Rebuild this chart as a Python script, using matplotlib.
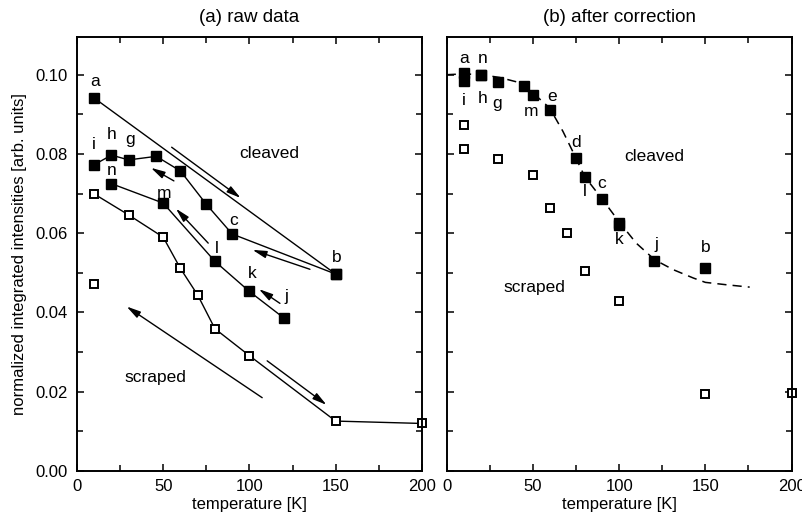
import matplotlib
matplotlib.use("Agg")
import matplotlib.pyplot as plt
from matplotlib.ticker import MultipleLocator, FormatStrFormatter

plt.rcParams["font.family"] = ["Liberation Sans", "DejaVu Sans"]
plt.rcParams["font.size"] = 12

# ---- (a) raw data ----
# cleaved: a -> b straight run
raw_ab_T = [10, 150]
raw_ab_I = [0.0941, 0.0497]
# cleaved: b -> c -> d -> e -> f -> g -> h -> i (cooling back)
raw_bi_T = [150, 90, 75, 60, 46, 30, 20, 10]
raw_bi_I = [0.0497, 0.0598, 0.0673, 0.0757, 0.0794, 0.0785, 0.0797, 0.0773]
# cleaved: j -> k -> l -> m -> n
raw_jn_T = [120, 100, 80, 50, 20]
raw_jn_I = [0.0386, 0.0453, 0.0529, 0.0676, 0.0725]
# scraped
raw_scr_T = [10, 30, 50, 60, 70, 80, 100, 150, 200]
raw_scr_I = [0.0699, 0.0646, 0.0590, 0.0511, 0.0444, 0.0359, 0.0291, 0.0126, 0.0120]
raw_scr_lone_T = [10]
raw_scr_lone_I = [0.0471]

raw_labels = ["a", "i", "h", "g", "n", "m", "c", "b", "l", "k", "j"]
raw_label_T = [10.4, 9.9, 20.1, 30.7, 20.1, 50.6, 90.6, 150.5, 81.0, 101.8, 121.2]
raw_label_I = [0.0983, 0.0823, 0.0848, 0.0836, 0.0758, 0.0701, 0.0632, 0.0539, 0.0562, 0.0499, 0.0440]

# arrows (start T, start I, end T, end I)
raw_arrows = [
    (54.9, 0.0817, 94.9, 0.0689),
    (56.2, 0.0732, 42.9, 0.0765),
    (76.1, 0.0575, 57.4, 0.0662),
    (135.1, 0.0509, 101.8, 0.0558),
    (117.7, 0.0423, 105.5, 0.0459),
    (107.4, 0.0185, 28.8, 0.0415),
    (110.3, 0.0278, 144.7, 0.0167),
]

# ---- (b) after correction ----
cor_cl_T = [10, 10, 20, 20, 30, 45, 50, 60, 75, 80, 90, 100, 100, 120, 150]
cor_cl_I = [0.1005, 0.0985, 0.1000, 0.0998, 0.0982, 0.0971, 0.0949, 0.0912,
            0.0791, 0.0741, 0.0687, 0.0627, 0.0622, 0.0529, 0.0512]
cor_scr_T = [10, 10, 30, 50, 60, 70, 80, 100, 150, 200]
cor_scr_I = [0.0872, 0.0813, 0.0787, 0.0746, 0.0663, 0.0600, 0.0505, 0.0429, 0.0194, 0.0198]
# dashed guide curve
fit_T = [0, 10, 20, 30.7, 40.4, 50, 59.7, 67.4, 74.8, 80, 90, 100.3, 109.9,
         120.6, 131.4, 143, 150, 162.1, 175.7]
fit_I = [0.1000, 0.1002, 0.1000, 0.0993, 0.0982, 0.0954, 0.0916, 0.0857, 0.0791,
         0.0743, 0.0687, 0.0627, 0.0575, 0.0533, 0.0508, 0.0487, 0.0476, 0.0470, 0.0464]

cor_labels = ["a", "n", "i", "h", "g", "m", "e", "d", "l", "c", "k", "j", "b"]
cor_label_T = [10, 20.7, 10, 20.7, 29.3, 49.1, 61.2, 74.8, 80.2, 90, 100.3, 121.4, 150.5]
cor_label_I = [0.1042, 0.1040, 0.0934, 0.0941, 0.0927, 0.0906, 0.0945, 0.0828,
               0.0705, 0.0725, 0.0583, 0.0572, 0.0565]

LBL = 12.5


def style_axis(ax):
    ax.set_xlim(0, 200)
    ax.set_ylim(0, 0.1095)
    ax.xaxis.set_major_locator(MultipleLocator(50))
    ax.xaxis.set_minor_locator(MultipleLocator(25))
    ax.yaxis.set_major_locator(MultipleLocator(0.02))
    ax.yaxis.set_minor_locator(MultipleLocator(0.01))
    ax.tick_params(which="both", direction="in", top=True, right=True, width=1.1,
                   labelsize=12)
    ax.tick_params(which="major", length=5)
    ax.tick_params(which="minor", length=4)
    ax.tick_params(axis="y", pad=7)
    ax.tick_params(axis="x", pad=6)
    for s in ax.spines.values():
        s.set_linewidth(1.4)
    ax.set_xlabel("temperature [K]", fontsize=12, labelpad=2)


fig = plt.figure(figsize=(8.02, 5.18), dpi=100)
ax1 = fig.add_axes([0.096, 0.0907, 0.430, 0.8378])
ax2 = fig.add_axes([0.557, 0.0907, 0.430, 0.8378])

fill_kw = dict(marker="s", ms=7.5, color="black", mfc="black", lw=1.0)
open_kw = dict(marker="s", ms=6, color="black", mfc="white", mew=1.4, lw=1.0)

ax1.plot(raw_ab_T, raw_ab_I, **fill_kw)
ax1.plot(raw_bi_T, raw_bi_I, **fill_kw)
ax1.plot(raw_jn_T, raw_jn_I, **fill_kw)
ax1.plot(raw_scr_T, raw_scr_I, clip_on=False, **open_kw)
ax1.plot(raw_scr_lone_T, raw_scr_lone_I, ls="none", marker="s", ms=6, color="black",
         mfc="white", mew=1.4)
for lab, t, i in zip(raw_labels, raw_label_T, raw_label_I):
    ax1.text(t, i, lab, ha="center", va="center", fontsize=LBL)
for t0, i0, t1, i1 in raw_arrows:
    ax1.annotate("", xy=(t1, i1), xytext=(t0, i0),
                 arrowprops=dict(arrowstyle="-|>,head_length=0.7,head_width=0.18",
                                 color="black", lw=1.0, shrinkA=0, shrinkB=0))
ax1.text(111.5, 0.0800, "cleaved", ha="center", va="center", fontsize=LBL)
ax1.text(45.2, 0.0236, "scraped", ha="center", va="center", fontsize=LBL)
ax1.set_title("(a) raw data", fontsize=13.5, pad=11)
ax1.set_ylabel("normalized integrated intensities [arb. units]", fontsize=12, labelpad=6)
style_axis(ax1)
ax1.yaxis.set_major_formatter(FormatStrFormatter("%.2f"))

ax2.plot(fit_T, fit_I, color="black", lw=1.1, ls=(0, (6, 4)))
ax2.plot(cor_cl_T, cor_cl_I, ls="none", marker="s", ms=6.5, color="black")
ax2.plot(cor_scr_T, cor_scr_I, ls="none", marker="s", ms=6, color="black", mfc="white", mew=1.4,
         clip_on=False)
for lab, t, i in zip(cor_labels, cor_label_T, cor_label_I):
    ax2.text(t, i, lab, ha="center", va="center", fontsize=LBL)
ax2.text(120.6, 0.0794, "cleaved", ha="center", va="center", fontsize=LBL)
ax2.text(50.6, 0.0463, "scraped", ha="center", va="center", fontsize=LBL)
ax2.set_title("(b) after correction", fontsize=13.5, pad=11)
style_axis(ax2)
ax2.set_yticklabels([])

fig.savefig("out.png", dpi=100)
